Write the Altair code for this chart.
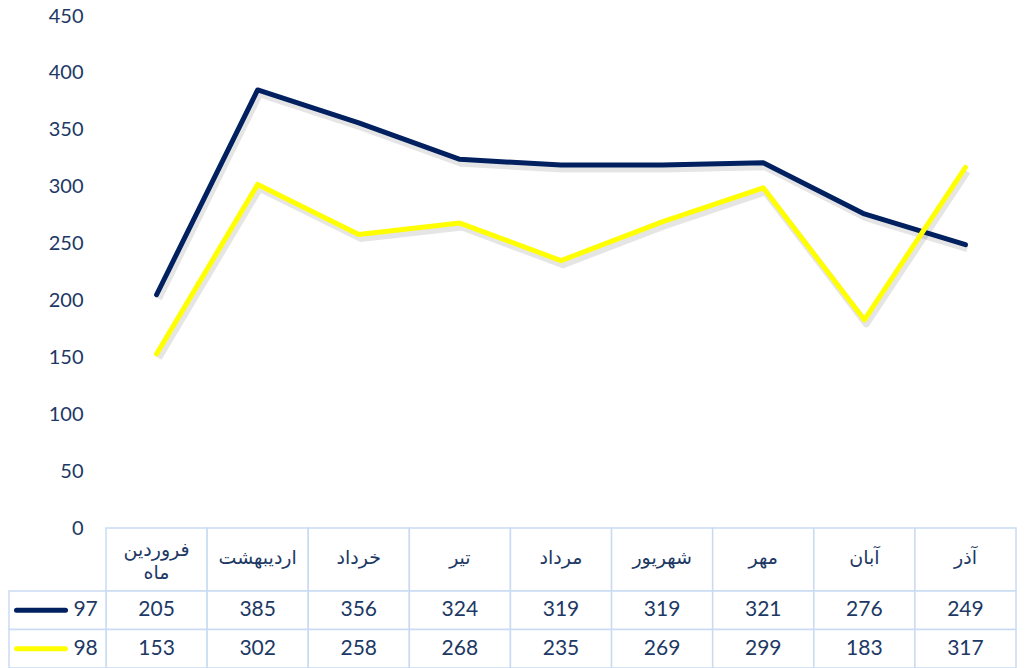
import altair as alt
import pandas as pd

# ---- data ----
months = ["فروردین ماه", "اردیبهشت", "خرداد", "تیر", "مرداد", "شهریور", "مهر", "آبان", "آذر"]
years = ["97", "98"]
values_97 = [205, 385, 356, 324, 319, 319, 321, 276, 249]
values_98 = [153, 302, 258, 268, 235, 269, 299, 183, 317]
y_ticks = [0, 50, 100, 150, 200, 250, 300, 350, 400, 450]

NAVY = "#002060"
YELLOW = "#FFFF00"
TEXT = "#203864"
GRID = "#c9dbf2"
NUM_FONT = "Lato"
FA_FONT = "DejaVu Sans"

rows = []
for yr, vals in zip(years, [values_97, values_98]):
    for i, (m, v) in enumerate(zip(months, vals)):
        rows.append({"month": m, "year": yr, "value": v, "idx": i})
df = pd.DataFrame(rows)
key_df = pd.DataFrame({"year": years, "col": ["key"] * len(years)})
hdr_df = pd.DataFrame({"month": months})

W = 1007
KEY_W = 97

month_band = alt.Scale(type="band", domain=months, range=[KEY_W, W], paddingInner=0, paddingOuter=0)
month_point = alt.Scale(type="point", domain=months, range=[KEY_W, W], padding=0.5)
key_band = alt.Scale(type="band", domain=["key"], range=[0, KEY_W], paddingInner=0, paddingOuter=0)
row_band = alt.Scale(type="band", domain=years, paddingInner=0, paddingOuter=0)
color_scale = alt.Scale(domain=years, range=[NAVY, YELLOW])

# ---- line chart ----
y_enc = alt.Y(
    "value:Q",
    scale=alt.Scale(domain=[0, 450], nice=False),
    axis=alt.Axis(values=y_ticks, domain=False, ticks=False, grid=False, title=None,
                  labelFontSize=20, labelColor=TEXT, labelFont=NUM_FONT,
                  offset=-74, labelPadding=0),
)
x_line = alt.X("month:N", scale=month_point, axis=None)

shadow = alt.Chart(df).mark_line(
    strokeWidth=7, color="#000000", opacity=0.1, xOffset=2, yOffset=4, strokeJoin="round"
).encode(x=x_line, y=y_enc, detail="year:N", order="idx:Q")

lines = alt.Chart(df).mark_line(strokeWidth=5, strokeJoin="round", strokeCap="round").encode(
    x=x_line, y=y_enc, order="idx:Q",
    color=alt.Color("year:N", scale=color_scale, legend=None),
)

top = alt.layer(shadow, lines).properties(width=W, height=512)

# ---- table header ----
hdr_rect = alt.Chart(hdr_df).mark_rect(fill="white", stroke=GRID, strokeWidth=1.5).encode(
    x=alt.X("month:N", scale=month_band, axis=None)
)
hdr_x = alt.X("month:N", scale=month_band, axis=None, bandPosition=0.5)
hdr_text_single = alt.Chart(hdr_df).transform_filter(
    "indexof(datum.month, ' ') < 0"
).mark_text(font=FA_FONT, fontSize=19, color=TEXT, baseline="middle", dy=-2).encode(
    x=hdr_x, text="month:N"
)
hdr_text_multi = alt.Chart(hdr_df).transform_filter(
    "indexof(datum.month, ' ') >= 0"
).mark_text(
    font=FA_FONT, fontSize=19, color=TEXT, lineBreak=" ", lineHeight=23, baseline="middle", dy=-10
).encode(x=hdr_x, text="month:N")
header = alt.layer(hdr_rect, hdr_text_single, hdr_text_multi).properties(width=W, height=63)

# ---- table body ----
y_row = alt.Y("year:N", scale=row_band, axis=None)
y_row_mid = alt.Y("year:N", scale=row_band, axis=None, bandPosition=0.5)

cells = alt.Chart(df).mark_rect(fill="white", stroke=GRID, strokeWidth=1.5).encode(
    x=alt.X("month:N", scale=month_band, axis=None), y=y_row
)
vals = alt.Chart(df).mark_text(font=NUM_FONT, fontSize=21, color=TEXT, baseline="middle").encode(
    x=alt.X("month:N", scale=month_band, axis=None, bandPosition=0.5), y=y_row_mid, text="value:Q"
)
key_cells = alt.Chart(key_df).mark_rect(fill="white", stroke=GRID, strokeWidth=1.5).encode(
    x=alt.X("col:N", scale=key_band, axis=None), y=y_row
)
key_sym = alt.Chart(key_df).mark_point(
    shape="stroke", size=2401, strokeWidth=5, strokeCap="round", filled=False, opacity=1
).encode(
    x=alt.X("col:N", scale=key_band, axis=None, bandPosition=0.33),
    y=y_row_mid,
    color=alt.Color("year:N", scale=color_scale, legend=None),
)
key_lbl = alt.Chart(key_df).mark_text(
    font=NUM_FONT, fontSize=21, color=TEXT, align="right", baseline="middle"
).encode(
    x=alt.X("col:N", scale=key_band, axis=None, bandPosition=0.915),
    y=y_row_mid,
    text="year:N",
)
table = alt.layer(cells, vals, key_cells, key_sym, key_lbl).resolve_scale(x="independent").properties(
    width=W, height=77
)

chart = alt.vconcat(top, header, table, spacing=0, bounds="flush").properties(
    padding={"left": 6, "top": 6, "right": 0, "bottom": 0},
    background="white",
).configure_view(stroke=None)

chart.save("out.html", embed_options={"renderer": "svg", "actions": False})
